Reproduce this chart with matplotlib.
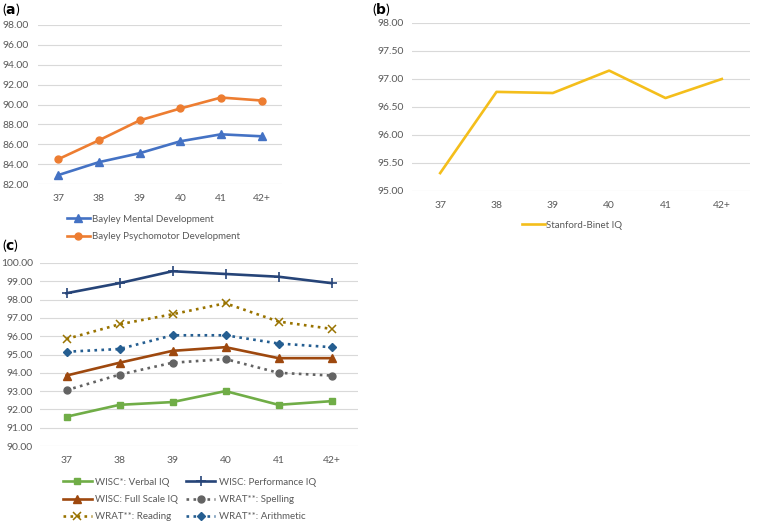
import matplotlib
matplotlib.use("Agg")
import matplotlib.pyplot as plt

plt.rcParams['font.family'] = ['Lato', 'DejaVu Sans']

weeks = ['37', '38', '39', '40', '41', '42+']

# (a) Bayley
bayley_mental = [82.9, 84.2, 85.1, 86.3, 87.0, 86.8]
bayley_psychomotor = [84.5, 86.4, 88.4, 89.6, 90.7, 90.4]

# (b) Stanford-Binet
stanford_binet = [95.32, 96.77, 96.75, 97.15, 96.66, 97.00]

# (c) WISC / WRAT
wisc_verbal = [91.6, 92.25, 92.4, 93.0, 92.25, 92.45]
wisc_perf = [98.35, 98.9, 99.55, 99.4, 99.25, 98.9]
wisc_full = [93.85, 94.55, 95.2, 95.4, 94.8, 94.8]
wrat_spelling = [93.05, 93.9, 94.55, 94.75, 94.0, 93.85]
wrat_reading = [95.85, 96.65, 97.2, 97.8, 96.8, 96.4]
wrat_arith = [95.15, 95.3, 96.05, 96.05, 95.6, 95.4]

W, H = 760, 528
fig = plt.figure(figsize=(7.6, 5.28), dpi=100)

def px_axes(x0, x1, ytop, ybot):
    return fig.add_axes([x0 / W, 1 - ybot / H, (x1 - x0) / W, (ybot - ytop) / H])

def style(ax, ylo, yhi, step, ypad=6):
    ax.set_xlim(-0.5, 5.5)
    ax.set_ylim(ylo, yhi)
    ticks = []
    v = ylo
    while v <= yhi + 1e-9:
        ticks.append(v)
        v += step
    ax.set_yticks(ticks)
    ax.set_yticklabels(['%.2f' % t for t in ticks])
    ax.set_xticks(range(len(weeks)))
    ax.set_xticklabels(weeks)
    ax.grid(axis='y', color='#D9D9D9', lw=0.8)
    ax.set_axisbelow(True)
    for s in ax.spines.values():
        s.set_visible(False)
    ax.tick_params(length=0, labelsize=7.5, colors='#595959')
    ax.tick_params(axis='y', pad=ypad)
    ax.tick_params(axis='x', pad=7)

x = range(len(weeks))
lw = 1.9
fs_leg = 7

# (a)
ax1 = px_axes(38, 282, 25, 184)
style(ax1, 82, 98, 2, ypad=7)
h1, = ax1.plot(x, bayley_mental, color='#4472C4', lw=lw, marker='^', ms=5.5, label='Bayley Mental Development')
h2, = ax1.plot(x, bayley_psychomotor, color='#ED7D31', lw=lw, marker='o', ms=5, label='Bayley Psychomotor Development')
fig.legend(handles=[h1, h2], loc='upper left', bbox_to_anchor=(58 / W, 1 - 206 / H),
           frameon=False, fontsize=fs_leg, handlelength=2.4, handletextpad=0.15,
           labelspacing=0.9, labelcolor='#595959')

# (b)
ax2 = px_axes(412, 750, 23, 191)
style(ax2, 95, 98, 0.5)
h3, = ax2.plot(x, stanford_binet, color='#F4BE1B', lw=lw, label='Stanford-Binet IQ')
fig.legend(handles=[h3], loc='center', bbox_to_anchor=(572 / W, 1 - 225 / H),
           frameon=False, fontsize=fs_leg, handlelength=2.4, handletextpad=0.15,
           labelcolor='#595959')

# (c)
ax3 = px_axes(40, 358, 263, 446)
style(ax3, 90, 100, 1, ypad=5)
c1, = ax3.plot(x, wisc_verbal, color='#70AD47', lw=lw, marker='s', ms=4.5, label='WISC*: Verbal IQ')
c2, = ax3.plot(x, wisc_perf, color='#264478', lw=lw, marker='+', ms=7, mew=1.2, label='WISC: Performance IQ')
c3, = ax3.plot(x, wisc_full, color='#9E480E', lw=lw, marker='^', ms=5.5, label='WISC: Full Scale IQ')
c4, = ax3.plot(x, wrat_spelling, color='#636363', lw=lw, ls=':', marker='o', ms=5, label='WRAT**: Spelling')
c5, = ax3.plot(x, wrat_reading, color='#997300', lw=lw, ls=':', marker='x', ms=6, mew=1.1, label='WRAT**: Reading')
c6, = ax3.plot(x, wrat_arith, color='#255E91', lw=lw, ls=':', marker='D', ms=4.5, label='WRAT**: Arithmetic')
fig.legend(handles=[c1, c3, c5, c2, c4, c6], ncol=2, loc='upper left',
           bbox_to_anchor=(54 / W, 1 - 469 / H), frameon=False, fontsize=fs_leg,
           handlelength=3.0, handletextpad=0.35, labelspacing=0.85, columnspacing=0.8,
           labelcolor='#595959')

# panel labels
fig.text(2 / W, 1 - 9 / H, r'($\mathbf{a}$)', fontsize=10, va='center', ha='left')
fig.text(372 / W, 1 - 9 / H, r'($\mathbf{b}$)', fontsize=10, va='center', ha='left')
fig.text(2 / W, 1 - 245 / H, r'($\mathbf{c}$)', fontsize=10, va='center', ha='left')

fig.savefig('out.png', dpi=100)
